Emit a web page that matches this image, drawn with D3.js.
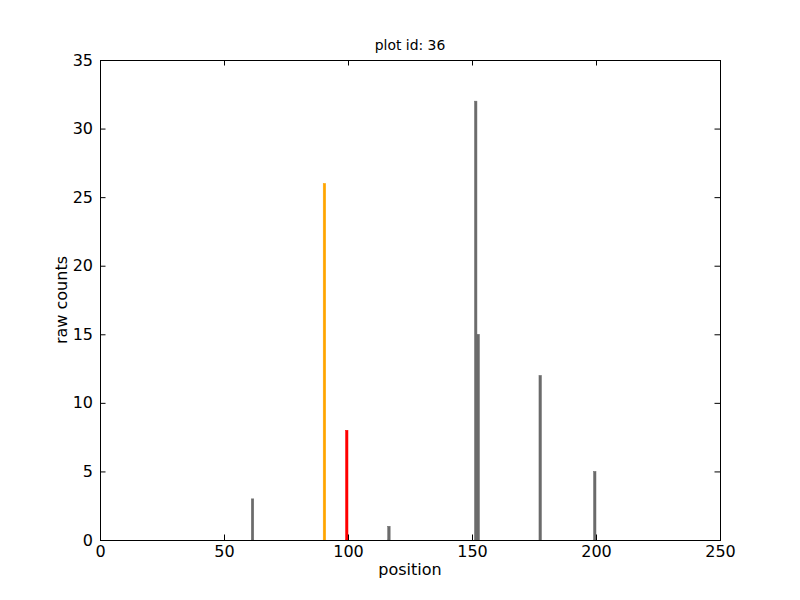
<!DOCTYPE html>
<html><head><meta charset="utf-8">
<script src="https://cdn.jsdelivr.net/npm/d3@7"></script>
<style>body{margin:0;background:#fff}svg{display:block}text{font-family:"DejaVu Sans",sans-serif;fill:#000}</style>
</head><body><svg id="c" width="800" height="600"></svg>
<script>
const positions = [61, 90, 99, 116, 151, 152, 177, 199];
const counts = [3, 26, 8, 1, 32, 15, 12, 5];
const barColors = ["#6b6b6b", "#ffa500", "#ff0000", "#6b6b6b", "#6b6b6b", "#6b6b6b", "#6b6b6b", "#6b6b6b"];
const xTicks = [0, 50, 100, 150, 200, 250];
const yTicks = [0, 5, 10, 15, 20, 25, 30, 35];
const title = "plot id: 36", xLabel = "position", yLabel = "raw counts";

const svg = d3.select("#c");
const L = 100, R = 720, T = 60, B = 540;
const x = d3.scaleLinear().domain([0, 250]).range([L, R]);
const y = d3.scaleLinear().domain([0, 35]).range([B, T]);

svg.append("g").selectAll("rect").data(positions).join("rect")
  .attr("x", (d) => x(d))
  .attr("width", (d) => x(d + 1) - x(d))
  .attr("y", (d, i) => y(counts[i]))
  .attr("height", (d, i) => y(0) - y(counts[i]))
  .attr("fill", (d, i) => barColors[i])
  .attr("stroke", (d, i) => barColors[i])
  .attr("stroke-width", 0.5);

const tl = 5.5;
const fs = "16px";
svg.append("g").attr("transform", `translate(0,${B})`)
  .call(d3.axisBottom(x).tickValues(xTicks).tickSizeInner(-tl).tickSizeOuter(0).tickPadding(6))
  .call(g => g.select(".domain").remove())
  .call(g => g.selectAll("text").style("font-size", fs).attr("font-family", "DejaVu Sans"));
svg.append("g").attr("transform", `translate(0,${T})`)
  .call(d3.axisTop(x).tickValues(xTicks).tickSizeInner(-tl).tickSizeOuter(0).tickFormat(""))
  .call(g => g.select(".domain").remove());
svg.append("g").attr("transform", `translate(${L},0)`)
  .call(d3.axisLeft(y).tickValues(yTicks).tickSizeInner(-tl).tickSizeOuter(0).tickPadding(7))
  .call(g => g.select(".domain").remove())
  .call(g => g.selectAll("text").style("font-size", fs).attr("font-family", "DejaVu Sans"));
svg.append("g").attr("transform", `translate(${R},0)`)
  .call(d3.axisRight(y).tickValues(yTicks).tickSizeInner(-tl).tickSizeOuter(0).tickFormat(""))
  .call(g => g.select(".domain").remove());
svg.selectAll(".tick line").attr("stroke", "#000");

svg.append("rect").attr("x", L + 0.5).attr("y", T + 0.5).attr("width", R - L).attr("height", B - T)
  .attr("fill", "none").attr("stroke", "#000").attr("stroke-width", 1);

svg.append("text").attr("x", (L + R) / 2).attr("y", 50).attr("text-anchor", "middle")
  .style("font-size", "13.9px").text(title);
svg.append("text").attr("x", (L + R) / 2).attr("y", 575).attr("text-anchor", "middle")
  .style("font-size", "16px").text(xLabel);
svg.append("text").attr("transform", `translate(67,${(T + B) / 2}) rotate(-90)`).attr("text-anchor", "middle")
  .style("font-size", "16px").text(yLabel);
</script></body></html>
